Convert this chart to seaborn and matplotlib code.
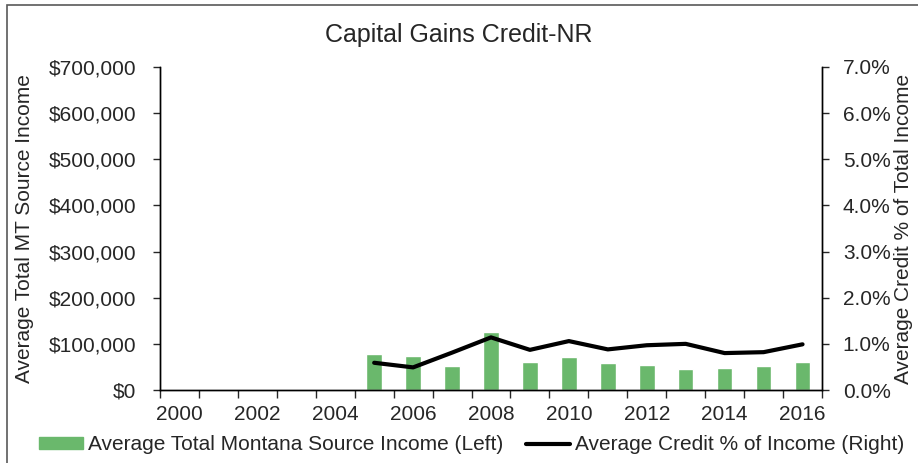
import pandas as pd
import numpy as np
import seaborn as sns
import matplotlib.pyplot as plt
from matplotlib.patches import Patch, Rectangle
from matplotlib.lines import Line2D
from matplotlib.ticker import FuncFormatter, MultipleLocator

years = [2005, 2006, 2007, 2008, 2009, 2010, 2011, 2012, 2013, 2014, 2015, 2016]
avg_income = [77400, 73000, 52000, 125800, 61600, 70900, 58600, 53600, 45600, 47000, 51400, 60700]
credit_pct = [0.59, 0.49, 0.81, 1.14, 0.87, 1.06, 0.88, 0.97, 1.00, 0.80, 0.82, 0.99]

df = pd.DataFrame({'year': years, 'income': avg_income, 'pct': credit_pct})

sns.set_style('white')
plt.rcParams['font.family'] = ['Liberation Sans', 'DejaVu Sans']
FS = 15

fig = plt.figure(figsize=(9.18, 4.63), dpi=100)
# chart border (only left/top visible, the rest is cropped in the original)
fig.patches.append(Rectangle((7 / 918, -0.05), 1.1, 1 - 5 / 463 + 0.05, transform=fig.transFigure,
                             fill=False, edgecolor='#595959', linewidth=1.2))
ax = fig.add_axes([160 / 918, 1 - 390 / 463, 662 / 918, 323 / 463])

sns.barplot(data=df, x='year', y='income', native_scale=True, width=0.4,
            color='#6ab86c', saturation=1, ax=ax)
ax.set_xlim(1999.5, 2016.5)
ax.set_ylim(0, 700000)
ax.yaxis.set_major_locator(MultipleLocator(100000))
ax.yaxis.set_major_formatter(FuncFormatter(lambda v, p: f'${v:,.0f}'))
ax.set_xticks(range(2000, 2017, 2))
ax.set_xticks(np.arange(1999.5, 2017, 1), minor=True)
ax.tick_params(axis='x', which='major', length=0, pad=11, labelsize=FS)
ax.tick_params(axis='x', which='minor', length=6, width=1, direction='out', bottom=True)
ax.tick_params(axis='y', length=5, width=1, direction='out', left=True, pad=12, labelsize=FS)
ax.set_xlabel('')
ax.set_ylabel('Average Total MT Source Income', fontsize=FS)
ax.yaxis.set_label_coords(-0.190, 0.5)

ax2 = ax.twinx()
sns.lineplot(data=df, x='year', y='pct', color='black', linewidth=3, ax=ax2)
ax2.set_ylim(0, 7)
ax2.yaxis.set_major_locator(MultipleLocator(1))
ax2.yaxis.set_major_formatter(FuncFormatter(lambda v, p: f'{v:.1f}%'))
ax2.tick_params(axis='y', length=5, width=1, direction='out', right=True, pad=10, labelsize=FS)
ax2.set_ylabel('Average Credit % of Total Income', fontsize=FS)
ax2.yaxis.set_label_coords((894 - 160) / 662, 0.5)
ax2.set_xlim(1999.5, 2016.5)

for a in (ax, ax2):
    a.spines['top'].set_visible(False)
    for s in ('left', 'right', 'bottom'):
        a.spines[s].set_color('black')
        a.spines[s].set_linewidth(1)

fig.text(0.5, 1 - 35 / 463, 'Capital Gains Credit-NR', ha='center', va='center', fontsize=18)

handles = [Patch(color='#6ab86c'), Line2D([0], [0], color='black', linewidth=3)]
labels = ['Average Total Montana Source Income (Left)', 'Average Credit % of Income (Right)']
fig.legend(handles, labels, loc='center', bbox_to_anchor=(0.514, 1 - 445 / 463), ncol=2,
           frameon=False, fontsize=FS, handlelength=2.1, handleheight=0.55,
           columnspacing=1.1, handletextpad=0.25)

fig.savefig('out.png', dpi=100)
